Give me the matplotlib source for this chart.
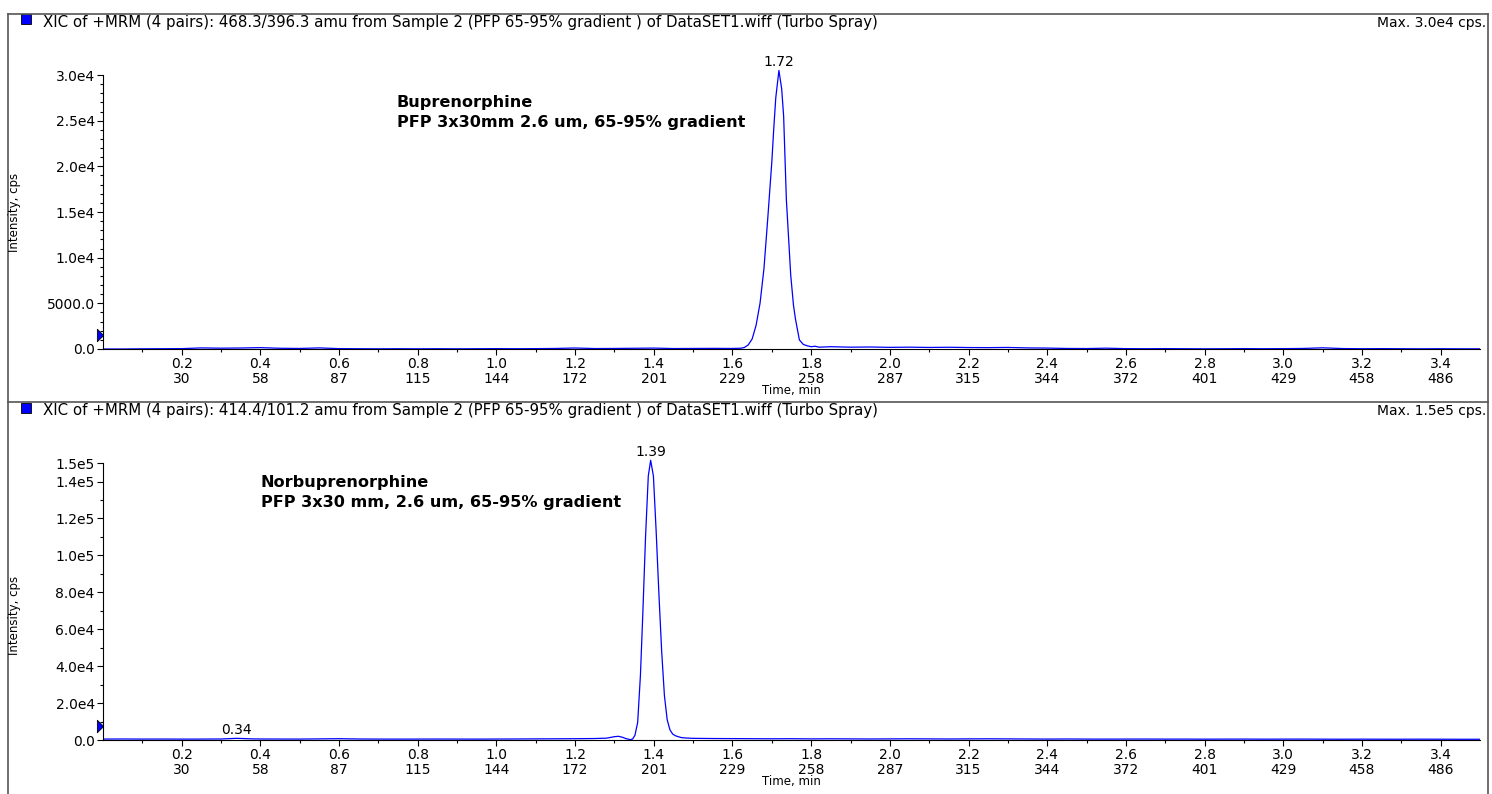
import numpy as np
import matplotlib
matplotlib.use("Agg")
import matplotlib.pyplot as plt
from matplotlib.lines import Line2D
from matplotlib.patches import Rectangle
from matplotlib.ticker import FixedLocator
import matplotlib.transforms as mtransforms

plt.rcParams["font.family"] = ["DejaVu Sans"]

W, H = 1492, 794

# ---- data ----
# Buprenorphine trace (468.3/396.3)
bup_time = [0.00, 0.05, 0.10, 0.15, 0.20, 0.25, 0.30, 0.35, 0.40, 0.45, 0.50, 0.55,
            0.60, 0.65, 0.70, 0.75, 0.80, 0.85, 0.90, 0.95, 1.00, 1.05, 1.10, 1.15,
            1.20, 1.25, 1.30, 1.35, 1.40, 1.45, 1.50, 1.55, 1.60,
            1.62, 1.63, 1.64, 1.65, 1.66, 1.67, 1.68, 1.69, 1.70, 1.705, 1.71, 1.718,
            1.725, 1.73, 1.737, 1.74, 1.748, 1.755, 1.76, 1.77, 1.78, 1.79, 1.80, 1.81, 1.82,
            1.85, 1.90, 1.95, 2.00, 2.05, 2.10, 2.15, 2.20, 2.25, 2.30, 2.35, 2.40,
            2.45, 2.50, 2.55, 2.60, 2.65, 2.70, 2.75, 2.80, 2.85, 2.90, 2.95, 3.00,
            3.05, 3.10, 3.15, 3.20, 3.25, 3.30, 3.35, 3.40, 3.45, 3.50]
bup_int = [0, 0, 20, 30, 40, 120, 90, 110, 150, 80, 60, 120,
           40, 30, 20, 30, 20, 30, 20, 30, 40, 30, 40, 60,
           110, 50, 60, 80, 100, 50, 60, 70, 60,
           80, 160, 450, 1100, 2600, 5000, 8800, 14500, 20500, 24200, 27500, 30500,
           28500, 25500, 16300, 14100, 8100, 4800, 3300, 1000, 500, 350, 250, 300, 200,
           250, 200, 220, 180, 200, 170, 190, 160, 150, 170, 120, 100,
           60, 50, 90, 40, 30, 40, 30, 20, 30, 40, 30, 40,
           60, 130, 50, 30, 40, 30, 20, 30, 20, 20]

# Norbuprenorphine trace (414.4/101.2)
nor_time = [0.00, 0.05, 0.10, 0.15, 0.20, 0.25, 0.30, 0.34, 0.38, 0.40, 0.45, 0.50,
            0.55, 0.60, 0.65, 0.70, 0.75, 0.80, 0.85, 0.90, 0.95, 1.00, 1.05, 1.10,
            1.15, 1.20, 1.25, 1.28, 1.30, 1.31, 1.32, 1.33, 1.34,
            1.346, 1.352, 1.359, 1.366, 1.372, 1.379, 1.386, 1.392, 1.399, 1.406,
            1.413, 1.420, 1.427, 1.434, 1.441, 1.448, 1.455, 1.462, 1.47, 1.48,
            1.50, 1.55, 1.60, 1.65, 1.70, 1.75, 1.80, 1.85, 1.90, 1.95, 2.00, 2.05,
            2.10, 2.15, 2.20, 2.25, 2.30, 2.35, 2.40, 2.45, 2.50, 2.55, 2.60, 2.65,
            2.70, 2.75, 2.80, 2.85, 2.90, 2.95, 3.00, 3.05, 3.10, 3.15, 3.20, 3.25,
            3.30, 3.35, 3.40, 3.45, 3.50]
nor_int = [500, 550, 500, 520, 480, 500, 550, 900, 600, 550, 520, 500,
           600, 700, 550, 500, 480, 500, 520, 500, 480, 520, 550, 600,
           650, 700, 800, 1000, 1800, 2000, 1500, 700, 200,
           500, 2500, 9500, 35000, 68000, 110000, 143000, 151500, 143000, 113000,
           79000, 48000, 24000, 11000, 5500, 3200, 2300, 1800, 1300, 1100,
           900, 800, 750, 700, 650, 700, 600, 650, 600, 550, 600, 650,
           600, 550, 600, 650, 600, 550, 500, 550, 500, 480, 500, 520,
           480, 500, 450, 480, 500, 450, 480, 500, 450, 420, 450, 430,
           420, 450, 420, 400, 400]

x_ticks = [0.2, 0.4, 0.6, 0.8, 1.0, 1.2, 1.4, 1.6, 1.8, 2.0, 2.2, 2.4, 2.6, 2.8, 3.0, 3.2, 3.4]
scan_nums = [30, 58, 87, 115, 144, 172, 201, 229, 258, 287, 315, 344, 372, 401, 429, 458, 486]

bup_yticks = [0, 5000, 10000, 15000, 20000, 25000, 30000]
bup_ylabels = ["0.0", "5000.0", "1.0e4", "1.5e4", "2.0e4", "2.5e4", "3.0e4"]
nor_yticks = [0, 20000, 40000, 60000, 80000, 100000, 120000, 140000, 150000]
nor_ylabels = ["0.0", "2.0e4", "4.0e4", "6.0e4", "8.0e4", "1.0e5", "1.2e5", "1.4e5", "1.5e5"]

headers = ["XIC of +MRM (4 pairs): 468.3/396.3 amu from Sample 2 (PFP 65-95% gradient ) of DataSET1.wiff (Turbo Spray)",
           "XIC of +MRM (4 pairs): 414.4/101.2 amu from Sample 2 (PFP 65-95% gradient ) of DataSET1.wiff (Turbo Spray)"]
max_labels = ["Max. 3.0e4 cps.", "Max. 1.5e5 cps."]
notes = [("Buprenorphine", "PFP 3x30mm 2.6 um, 65-95% gradient"),
         ("Norbuprenorphine", "PFP 3x30 mm, 2.6 um, 65-95% gradient")]
peak_labels = [[(1.72, 1.718, 30500)], [(1.39, 1.392, 151500), (0.34, 0.34, 900)]]
marker_levels = [1500, 7700]


def fx(px):
    return px / W


def fy(py):
    return 1 - py / H


fig = plt.figure(figsize=(W / 100, H / 100), dpi=100)

# axes placement in pixels: (left, right, y of zero, y of top, ymax, spine top, minor step)
layout = [(103, 1480, 349, 65.9, 31000, 30000, 1000),
          (103, 1480, 740, 457.5, 153000, 150000, 10000)]
series = [(bup_time, bup_int), (nor_time, nor_int)]
yt = [(bup_yticks, bup_ylabels), (nor_yticks, nor_ylabels)]
note_x = [397, 261]
note_base = [(107.5, 127.5), (486.5, 507.5)]
header_line = [13.5, 402]
ylabel_y = [212, 615]

for i in range(2):
    l, r, y0, y1, ymax, ytop, minor = layout[i]
    ax = fig.add_axes([fx(l), fy(y0), (r - l) / W, (y0 - y1) / H])
    t, v = series[i]
    ax.plot(t, v, color="#0000FF", lw=0.9)
    ax.set_xlim(0, 3.5)
    ax.set_ylim(0, ymax)
    for s in ["top", "right"]:
        ax.spines[s].set_visible(False)
    ax.spines["left"].set_bounds(0, ytop)
    ax.spines["left"].set_linewidth(0.8)
    ax.spines["bottom"].set_linewidth(0.8)

    ax.set_xticks(x_ticks)
    ax.set_xticklabels([f"{a:.1f}\n{b}" for a, b in zip(x_ticks, scan_nums)],
                       fontsize=10, linespacing=1.1)
    ax.xaxis.set_minor_locator(FixedLocator(np.arange(0.1, 3.5, 0.2)))
    ticks, labels = yt[i]
    ax.set_yticks(ticks)
    ax.set_yticklabels(labels, fontsize=10)
    ax.yaxis.set_minor_locator(FixedLocator(np.arange(minor, ytop, minor)))
    ax.tick_params(which="major", direction="out", length=4, width=0.8, pad=2)
    ax.tick_params(which="minor", direction="out", length=2.5, width=0.8)
    ax.set_xlabel("Time, min", fontsize=8.5, labelpad=-2)

    # peak labels
    for lab, px, py in peak_labels[i]:
        ax.annotate(f"{lab:.2f}", (px, py), xytext=(0, 1), textcoords="offset points",
                    ha="center", va="bottom", fontsize=10)

    # retention marker on the y-axis
    trans = mtransforms.blended_transform_factory(ax.transAxes, ax.transData)
    tri = [(-0.5, -1), (0.5, 0), (-0.5, 1), (-0.5, -1)]
    ax.plot([-0.0022], [marker_levels[i]], marker=tri, markersize=9,
            markerfacecolor="#0000FF", markeredgecolor="black", markeredgewidth=0.6,
            transform=trans, clip_on=False, linestyle="none")

    # annotations
    fig.text(fx(note_x[i]), fy(note_base[i][0]), notes[i][0], fontsize=11.6,
             fontweight="bold", va="baseline", ha="left")
    fig.text(fx(note_x[i]), fy(note_base[i][1]), notes[i][1], fontsize=11.6,
             fontweight="bold", va="baseline", ha="left")

    # header
    hl = header_line[i]
    fig.text(fx(43), fy(hl + 13), headers[i], fontsize=10.8, va="baseline", ha="left")
    fig.text(fx(1486), fy(hl + 13), max_labels[i], fontsize=10, va="baseline", ha="right")
    fig.add_artist(Rectangle((fx(21), fy(hl + 10.5)), 10 / W, 10 / H,
                             transform=fig.transFigure, facecolor="#0000FF",
                             edgecolor="black", lw=0.6))
    fig.text(fx(15), fy(ylabel_y[i]), "Intensity, cps", fontsize=8.5,
             rotation=90, va="center", ha="center")

# panel frames
frame_kw = dict(color="#555555", lw=1.2, transform=fig.transFigure)
fig.add_artist(Line2D([fx(8), fx(1488)], [fy(13.5), fy(13.5)], **frame_kw))
fig.add_artist(Line2D([fx(8), fx(1488)], [fy(402), fy(402)], **frame_kw))
fig.add_artist(Line2D([fx(8), fx(8)], [fy(13.5), fy(794)], **frame_kw))
fig.add_artist(Line2D([fx(1488), fx(1488)], [fy(13.5), fy(794)], **frame_kw))

fig.savefig("out.png", dpi=100)
